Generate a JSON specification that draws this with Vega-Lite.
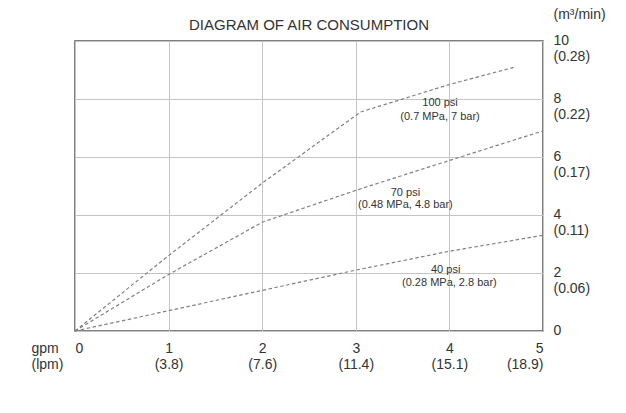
{
  "$schema": "https://vega.github.io/schema/vega-lite/v6.json",
  "width": 468,
  "height": 290,
  "autosize": {"type": "none"},
  "padding": {"left": 75, "top": 41, "right": 83, "bottom": 82},
  "background": "white",
  "config": {
    "font": "Liberation Sans",
    "view": {"stroke": "#555555", "strokeWidth": 1.5},
    "axis": {"gridColor": "#c4c4c4", "gridWidth": 1, "labelColor": "#333333", "titleColor": "#333333", "labelFont": "Liberation Sans", "titleFont": "Liberation Sans"}
  },
  "title": {"text": "DIAGRAM OF AIR CONSUMPTION", "fontSize": 15, "fontWeight": "normal", "color": "#333333", "offset": -41, "anchor": "middle", "baseline": "bottom", "font": "Liberation Sans"},
  "datasets": {
    "lines": [
      {"series": "100 psi", "gpm": 0, "m3": 0},
      {"series": "100 psi", "gpm": 1, "m3": 2.6},
      {"series": "100 psi", "gpm": 2, "m3": 5.1},
      {"series": "100 psi", "gpm": 3.05, "m3": 7.55},
      {"series": "100 psi", "gpm": 4, "m3": 8.5},
      {"series": "100 psi", "gpm": 4.7, "m3": 9.1},
      {"series": "70 psi", "gpm": 0, "m3": 0},
      {"series": "70 psi", "gpm": 1, "m3": 1.95},
      {"series": "70 psi", "gpm": 2, "m3": 3.75},
      {"series": "70 psi", "gpm": 3, "m3": 4.85},
      {"series": "70 psi", "gpm": 4, "m3": 5.88},
      {"series": "70 psi", "gpm": 5, "m3": 6.9},
      {"series": "40 psi", "gpm": 0, "m3": 0},
      {"series": "40 psi", "gpm": 1, "m3": 0.7},
      {"series": "40 psi", "gpm": 2, "m3": 1.4},
      {"series": "40 psi", "gpm": 3, "m3": 2.1},
      {"series": "40 psi", "gpm": 4, "m3": 2.75},
      {"series": "40 psi", "gpm": 5, "m3": 3.3}
    ],
    "labels": [
      {"gpm": 3.9, "m3": 7.86, "text": "100 psi"},
      {"gpm": 3.9, "m3": 7.38, "text": "(0.7 MPa, 7 bar)"},
      {"gpm": 3.53, "m3": 4.76, "text": "70 psi"},
      {"gpm": 3.53, "m3": 4.34, "text": "(0.48 MPa, 4.8 bar)"},
      {"gpm": 3.96, "m3": 2.1, "text": "40 psi"},
      {"gpm": 4.0, "m3": 1.66, "text": "(0.28 MPa, 2.8 bar)"}
    ]
  },
  "layer": [
    {
      "data": {"name": "lines"},
      "mark": {"type": "line", "color": "#808080", "strokeDash": [3.5, 2.5], "strokeWidth": 1.2},
      "encoding": {
        "x": {
          "field": "gpm", "type": "quantitative",
          "scale": {"domain": [0, 5], "nice": false, "zero": false},
          "axis": {
            "values": [0, 1, 2, 3, 4, 5], "grid": true, "ticks": false, "domain": false,
            "labelFontSize": 14, "labelPadding": 10, "labelBaseline": "top", "labelLineHeight": 16,
            "labelExpr": "datum.value == 0 ? '0' : datum.value == 1 ? ['1', '(3.8)'] : datum.value == 2 ? ['2', '(7.6)'] : datum.value == 3 ? ['3', '(11.4)'] : datum.value == 4 ? ['4', '(15.1)'] : ['5', '(18.9)']",
            "title": ["gpm", "(lpm)"], "titleFontSize": 14, "titleFontWeight": "normal", "titleLineHeight": 16,
            "titleAngle": 0, "titleAlign": "left", "titleBaseline": "top", "titleX": -44, "titleY": 10
          }
        },
        "y": {
          "field": "m3", "type": "quantitative",
          "scale": {"domain": [0, 10], "nice": false},
          "axis": {
            "orient": "right", "values": [0, 2, 4, 6, 8, 10], "grid": true, "ticks": false, "domain": false,
            "labelFontSize": 14, "labelPadding": 10, "labelBaseline": "top", "labelOffset": -8, "labelLineHeight": 16, "labelAlign": "left",
            "labelExpr": "datum.value == 0 ? '0' : datum.value == 2 ? ['2', '(0.06)'] : datum.value == 4 ? ['4', '(0.11)'] : datum.value == 6 ? ['6', '(0.17)'] : datum.value == 8 ? ['8', '(0.22)'] : ['10', '(0.28)']",
            "title": "(m³/min)", "titleFontSize": 14, "titleFontWeight": "normal",
            "titleAngle": 0, "titleAlign": "left", "titleBaseline": "middle", "titleX": 10, "titleY": -27
          }
        },
        "detail": {"field": "series", "type": "nominal"}
      }
    },
    {
      "data": {"name": "labels"},
      "mark": {"type": "text", "fontSize": 11, "color": "#333333", "align": "center", "baseline": "middle", "font": "Liberation Sans"},
      "encoding": {
        "x": {"field": "gpm", "type": "quantitative"},
        "y": {"field": "m3", "type": "quantitative"},
        "text": {"field": "text", "type": "nominal"}
      }
    }
  ]
}
